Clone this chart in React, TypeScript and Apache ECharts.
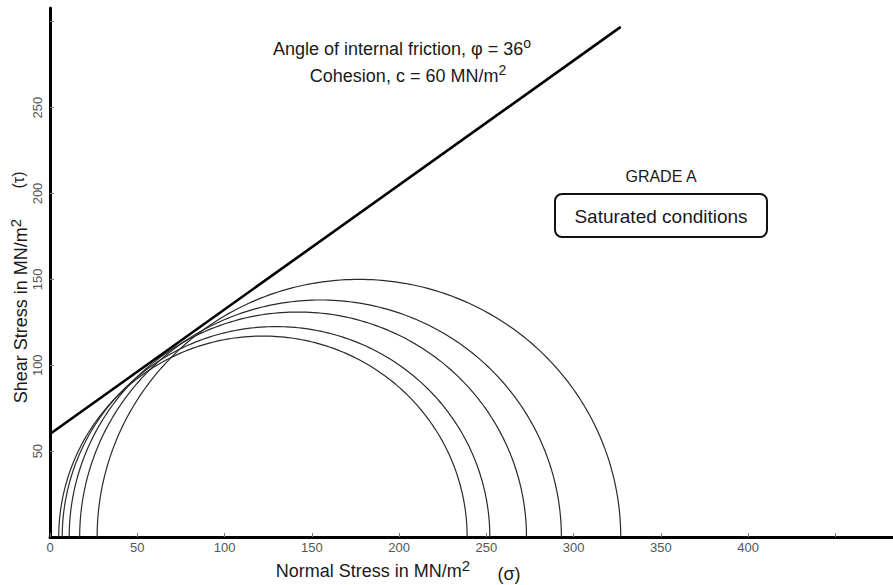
import React, { useEffect, useRef } from "react";
import * as echarts from "echarts";

// Mohr circles: minor (sigma3) and major (sigma1) principal stresses, MN/m^2
const sigma3 = [5, 7, 11, 17, 27];
const sigma1 = [239, 252, 273, 293, 327];
// Mohr-Coulomb envelope endpoints (c = 60, phi = 36 deg)
const envelopeSigma = [0, 327];
const envelopeTau = [60, 297];
// axis ticks / labels
const xLabelValues = [0, 50, 100, 150, 200, 250, 300, 350, 400];
const xTickValues = [0, 50, 100, 150, 200, 250, 300, 350, 400, 450];
const yLabelValues = [50, 100, 150, 200, 250];
const yTickValues = [50, 100, 150, 200, 250, 300];

const FONT = "Liberation Sans, Arial, sans-serif";

function circlePoints(s3: number, s1: number): number[][] {
  const c = (s1 + s3) / 2;
  const r = (s1 - s3) / 2;
  const pts: number[][] = [];
  for (let a = 0; a <= 180; a += 1) {
    const t = (a * Math.PI) / 180;
    pts.push([c + r * Math.cos(t), r * Math.sin(t)]);
  }
  return pts;
}

function supText(id: string, main: string, sup: string, x: number, y: number, size: number, supSize: number, rotation = 0, color = "#1a1a1a") {
  return {
    type: "text",
    id,
    x,
    y,
    rotation,
    style: {
      text: `{n|${main}}{s|${sup}}`,
      align: "center",
      verticalAlign: "middle",
      textAlign: "center",
      textVerticalAlign: "middle",
      fill: color,
      rich: {
        n: { fontSize: size, fontFamily: FONT, lineHeight: size + 4, fill: color, verticalAlign: "bottom" },
        s: { fontSize: supSize, fontFamily: FONT, lineHeight: supSize, fill: color, verticalAlign: "top" },
      },
    },
  };
}

function plainText(id: string, text: string, x: number, y: number, size: number, rotation = 0, color = "#1a1a1a") {
  return {
    type: "text",
    id,
    x,
    y,
    rotation,
    style: {
      text,
      align: "center",
      verticalAlign: "middle",
      textAlign: "center",
      textVerticalAlign: "middle",
      fontSize: size,
      fontFamily: FONT,
      fill: color,
    },
  };
}

export default function App() {
  const ref = useRef<HTMLDivElement>(null);

  useEffect(() => {
    if (!ref.current) return;
    const chart = echarts.init(ref.current, undefined, { renderer: "svg" });

    const circleSeries = sigma3.map((s3, i) => ({
      type: "line",
      name: `circle${i + 1}`,
      data: circlePoints(s3, sigma1[i]),
      showSymbol: false,
      symbol: "none",
      clip: true,
      lineStyle: { color: "#2a2a2a", width: 1.2 },
      silent: true,
      z: 2,
    }));

    const option: any = {
      animation: false,
      backgroundColor: "#ffffff",
      grid: { left: 50, right: 0, top: 8, bottom: 48, containLabel: false },
      xAxis: {
        type: "value",
        min: 0,
        max: 483,
        axisLine: { show: true, onZero: false, lineStyle: { color: "#000", width: 3 } },
        axisTick: { show: true, inside: true, length: 4, customValues: xTickValues, lineStyle: { color: "#777", width: 1 } },
        axisLabel: { customValues: xLabelValues, fontSize: 13, color: "#555", fontFamily: FONT, margin: 4 },
        splitLine: { show: false },
      },
      yAxis: {
        type: "value",
        min: 0,
        max: 308,
        axisLine: { show: true, onZero: false, lineStyle: { color: "#000", width: 3 } },
        axisTick: { show: true, inside: true, length: 4, customValues: yTickValues, lineStyle: { color: "#777", width: 1 } },
        axisLabel: { customValues: yLabelValues, fontSize: 13, color: "#555", fontFamily: FONT, rotate: 90, margin: 6 },
        splitLine: { show: false },
      },
      series: [
        ...circleSeries,
        {
          type: "line",
          name: "envelope",
          data: envelopeSigma.map((s, i) => [s, envelopeTau[i]]),
          showSymbol: false,
          symbol: "none",
          lineStyle: { color: "#000", width: 2.6 },
          silent: true,
          z: 3,
        },
      ],
      graphic: [
        supText("t1", "Angle of internal friction, φ = 36", "o", 402, 47, 18, 14),
        supText("t2", "Cohesion, c = 60 MN/m", "2", 408, 74, 18, 14),
        plainText("grade", "GRADE A", 661, 176, 16),
        {
          type: "rect",
          id: "box",
          shape: { x: 555, y: 194, width: 212, height: 43, r: 7 },
          style: { fill: "none", stroke: "#111", lineWidth: 2 },
        },
        plainText("sat", "Saturated conditions", 661, 216, 19),
        supText("xname", "Normal Stress in MN/m", "2", 373, 569, 18, 15),
        plainText("sigma", "(σ)", 509, 574, 18),
        supText("yname", "Shear Stress in MN/m", "2", 19, 311, 18, 15, Math.PI / 2),
        plainText("tau", "(τ)", 18, 180, 16, Math.PI / 2),
      ],
    };

    chart.setOption(option);
    return () => chart.dispose();
  }, []);

  return (
    <div
      ref={ref}
      style={{ position: "absolute", left: 0, top: 0, width: 893, height: 585, background: "#fff" }}
    />
  );
}
